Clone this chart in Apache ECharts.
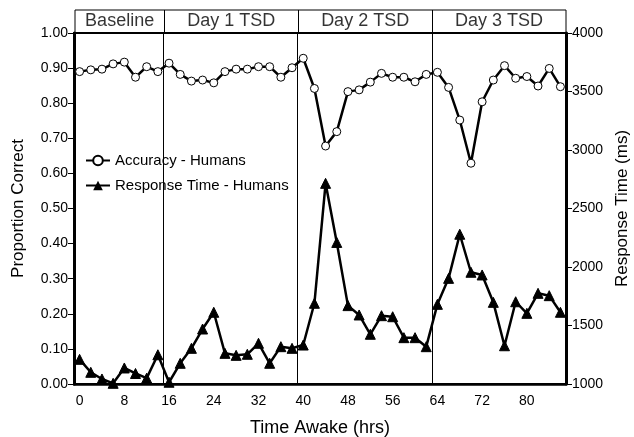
<!DOCTYPE html>
<html>
<head>
<meta charset="utf-8">
<script src="https://cdn.jsdelivr.net/npm/echarts@6/dist/echarts.min.js"></script>
<style>
  html, body { margin: 0; padding: 0; background: #fff; }
  #chart { width: 634px; height: 437px; }
</style>
</head>
<body>
<div id="chart"></div>
<script>
var hours = [0, 2, 4, 6, 8, 10, 12, 14, 16, 18, 20, 22, 24, 26, 28, 30, 32, 34, 36, 38, 40, 42,
    44, 46, 48, 50, 52, 54, 56, 58, 60, 62, 64, 66, 68, 70, 72, 74, 76, 78, 80, 82, 84, 86];
var accuracy = [0.890, 0.895, 0.897, 0.912, 0.917, 0.874, 0.904, 0.890,
    0.914, 0.882, 0.863, 0.866, 0.858, 0.890, 0.897, 0.897, 0.904, 0.904, 0.874, 0.901,
    0.928, 0.842, 0.678, 0.719, 0.833, 0.838, 0.860, 0.885, 0.874, 0.874, 0.861, 0.882,
    0.888, 0.845, 0.752, 0.629, 0.804, 0.866, 0.907, 0.871, 0.876, 0.849, 0.899, 0.847];
var responseTime = [1211, 1100, 1043, 1006, 1137, 1090, 1050, 1250,
    1015, 1177, 1305, 1470, 1613, 1262, 1245, 1254, 1348, 1177, 1319, 1305,
    1333, 1690, 2715, 2210, 1670, 1590, 1425, 1584, 1575, 1396, 1396, 1319,
    1681, 1903, 2280, 1955, 1932, 1698, 1327, 1703, 1604, 1775, 1755, 1613];
var periodNames = ['Baseline', 'Day 1 TSD', 'Day 2 TSD', 'Day 3 TSD'];
var periodMid = [7, 27, 51, 75];
var periodBounds = [15, 39, 63];

var font = 'Liberation Sans';
var myChart = echarts.init(document.getElementById('chart'));

var headerData = periodNames.map(function (n, i) {
    return { name: n, value: [periodMid[i], 0.5] };
});
var boundLines = periodBounds.map(function (b) {
    return { xAxis: b };
});

var option = {
    animation: false,
    textStyle: { fontFamily: font, color: '#000' },
    grid: [
        { left: 74, right: 68, top: 33, bottom: 53, show: true, borderColor: '#000', borderWidth: 2, outerBoundsMode: 'none', containLabel: false },
        { left: 75, right: 68, top: 10, height: 23, show: true, borderColor: '#000', borderWidth: 1, outerBoundsMode: 'none', containLabel: false }
    ],
    legend: {
        orient: 'vertical',
        left: 79,
        top: 143,
        padding: [10, 6],
        itemGap: 10,
        itemWidth: 24,
        itemHeight: 12,
        backgroundColor: '#fff',
        textStyle: { fontFamily: font, fontSize: 15, color: '#000' },
        data: ['Accuracy - Humans', 'Response Time - Humans']
    },
    xAxis: [
        {
            type: 'category',
            gridIndex: 0,
            data: hours,
            boundaryGap: true,
            name: 'Time Awake (hrs)',
            nameLocation: 'middle',
            nameGap: 35,
            nameTextStyle: { fontFamily: font, fontSize: 18, color: '#000' },
            axisLine: { onZero: false, lineStyle: { color: '#000', width: 2.5 } },
            axisTick: { interval: 0, length: 4, lineStyle: { color: '#000', width: 1 } },
            axisLabel: { interval: 3, margin: 10, fontFamily: font, fontSize: 14, color: '#000' },
            splitLine: { show: false }
        },
        {
            type: 'category',
            gridIndex: 0,
            data: hours,
            boundaryGap: true,
            position: 'bottom',
            axisLine: { show: false, onZero: false },
            axisTick: { interval: 0, inside: true, length: 4, lineStyle: { color: '#000', width: 1 } },
            axisLabel: { show: false },
            splitLine: { show: false }
        },
        {
            type: 'value',
            gridIndex: 0,
            min: -1,
            max: 87,
            show: false
        },
        {
            type: 'value',
            gridIndex: 1,
            min: -1,
            max: 87,
            show: false
        }
    ],
    yAxis: [
        {
            type: 'value',
            gridIndex: 0,
            min: 0,
            max: 1,
            interval: 0.1,
            name: 'Proportion Correct',
            nameLocation: 'middle',
            nameGap: 47,
            nameTextStyle: { fontFamily: font, fontSize: 17, color: '#000' },
            axisLine: { show: true, onZero: false, lineStyle: { color: '#000', width: 3 } },
            axisTick: { show: true, length: 6, lineStyle: { color: '#000' } },
            axisLabel: {
                margin: 6, fontFamily: font, fontSize: 14, color: '#000',
                formatter: function (v) { return v.toFixed(2); }
            },
            splitLine: { show: false }
        },
        {
            type: 'value',
            gridIndex: 0,
            position: 'right',
            min: 1000,
            max: 4000,
            interval: 500,
            name: 'Response Time (ms)',
            nameLocation: 'middle',
            nameGap: 47,
            nameRotate: 90,
            nameTextStyle: { fontFamily: font, fontSize: 17, color: '#000' },
            axisLine: { show: true, onZero: false, lineStyle: { color: '#000', width: 3 } },
            axisTick: { show: true, length: 6, lineStyle: { color: '#000' } },
            axisLabel: {
                margin: 6, fontFamily: font, fontSize: 14, color: '#000',
                formatter: function (v) { return String(v); }
            },
            splitLine: { show: false }
        },
        {
            type: 'value',
            gridIndex: 1,
            min: 0,
            max: 1,
            show: false
        }
    ],
    series: [
        {
            name: 'dividers',
            type: 'line',
            xAxisIndex: 2,
            yAxisIndex: 0,
            data: [],
            silent: true,
            markLine: {
                symbol: 'none',
                silent: true,
                label: { show: false },
                lineStyle: { color: '#000', width: 1, type: 'solid' },
                data: boundLines
            }
        },
        {
            name: 'header',
            type: 'scatter',
            xAxisIndex: 3,
            yAxisIndex: 2,
            symbolSize: 0,
            silent: true,
            data: headerData,
            label: {
                show: true,
                position: 'inside',
                formatter: '{b}',
                fontFamily: font,
                fontSize: 18,
                color: '#000'
            },
            markLine: {
                symbol: 'none',
                silent: true,
                label: { show: false },
                lineStyle: { color: '#000', width: 1, type: 'solid' },
                data: boundLines
            }
        },
        {
            name: 'Accuracy - Humans',
            type: 'line',
            xAxisIndex: 0,
            yAxisIndex: 0,
            data: accuracy,
            symbol: 'circle',
            symbolSize: 8,
            showAllSymbol: true,
            z: 4,
            lineStyle: { color: '#000', width: 2.5 },
            itemStyle: { color: '#fff', borderColor: '#000', borderWidth: 1 }
        },
        {
            name: 'Response Time - Humans',
            type: 'line',
            xAxisIndex: 0,
            yAxisIndex: 1,
            data: responseTime,
            symbol: 'triangle',
            symbolSize: 10,
            showAllSymbol: true,
            z: 3,
            lineStyle: { color: '#000', width: 2.5 },
            itemStyle: { color: '#000', borderColor: '#000' }
        }
    ]
};
myChart.setOption(option);
</script>
</body>
</html>
